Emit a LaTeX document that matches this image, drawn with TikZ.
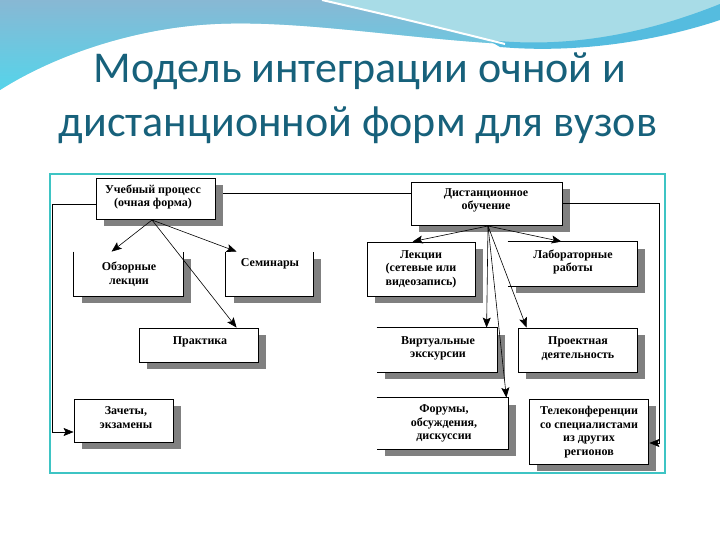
\documentclass[tikz,border=0pt]{standalone}
\usepackage{fontspec}
\setmainfont{Liberation Serif}
\newfontfamily\titlefont{Carlito}
\usetikzlibrary{shadows,fit,arrows.meta}
\definecolor{titlecol}{HTML}{17617B}
\definecolor{blueA}{HTML}{88B8D4}
\definecolor{blueB}{HTML}{55D4EA}
\definecolor{lightcyan}{HTML}{A8DCE7}
\definecolor{cyanband}{HTML}{55BCDF}
\definecolor{framecol}{HTML}{3EC4C4}
\begin{document}
\begin{tikzpicture}[x=1pt,y=-1pt,
  box/.style={draw=black, line width=0.8pt, fill=white, inner sep=0pt,
    drop shadow={shadow xshift=8pt,shadow yshift=-7pt,fill=black!50,opacity=1}},
  openbox/.style={box, draw=none},
  txt/.style={font=\bfseries\fontsize{12}{13.5}\selectfont, align=center, inner sep=0pt},
  conn/.style={line width=0.6pt, -{Stealth[length=10pt,width=8pt,inset=2pt]}},
  plainline/.style={line width=0.6pt},
  titletxt/.style={font=\titlefont\fontsize{44}{50}\selectfont, text=titlecol, anchor=base, inner sep=0pt}
]
\useasboundingbox (0,0) rectangle (720,540);
\fill[white] (0,0) rectangle (720,540);
% top decoration
\fill[lightcyan] (0,0) -- (720,0) -- (720,6) .. controls (660,32) and (580,50) .. (505,44)
  .. controls (400,38) and (300,20) .. (215,24) .. controls (130,28) and (50,58) .. (0,90) -- cycle;
\shade[top color=blueA, bottom color=blueB] (0,0) -- (322,0) .. controls (400,18) .. (505,44)
  .. controls (400,38) and (300,20) .. (215,24) .. controls (130,28) and (50,58) .. (0,90) -- cycle;
\fill[cyanband] (488,40) .. controls (580,50) and (660,28) .. (720,4) -- (720,20)
  .. controls (660,40) and (580,54) .. (500,47) -- cycle;
\draw[white, line width=2pt] (322,0) .. controls (400,18) .. (505,44);
% title
\node[titletxt] (title1) at (360,83) {Модель интеграции очной и};
\node[titletxt] (title2) at (358,137) {дистанционной форм для вузов};
% frame
\draw[framecol, line width=2pt, fill=white] (50,174) rectangle (665,473);
% boxes
\node[box, fit={(96,178) (215,219)}] (b1) {};
\node[openbox, fit={(74,252) (183,296)}] (b2) {};
\node[openbox, fit={(226,252) (313,296)}] (b3) {};
\node[box, fit={(411,182) (562,225)}] (b4) {};
\node[box, fit={(367,242) (475,296)}] (b5) {};
\node[openbox, fit={(508,242) (637,286)}] (b6) {};
\node[box, fit={(139,328) (258,362)}] (b7) {};
\node[box, fit={(74,399) (173,442)}] (b8) {};
\node[openbox, fit={(377,328) (497,372)}] (b9) {};
\node[box, fit={(518,328) (637,372)}] (b10) {};
\node[openbox, fit={(377,398) (508,449)}] (b11) {};
\node[box, fit={(529,399) (648,464)}] (b12) {};
% visible edges of open boxes
\draw[line width=0.8pt] (b2.north west) -- (b2.south west) -- (b2.south east) -- (b2.north east);
\draw[line width=0.8pt] (b3.north west) -- (b3.south west) -- (b3.south east) -- (b3.north east);
\draw[line width=0.8pt] (b6.north west) -- (b6.north east) -- (b6.south east) -- (b6.south west);
\draw[line width=0.8pt] (b9.north west) -- (b9.north east) -- (b9.south east) -- (b9.south west);
\draw[line width=0.8pt] (b11.north west) -- (b11.north east) -- (b11.south east) -- (b11.south west);
% texts
\node[txt] (t1) at (153,197) {Учебный процесс\\(очная форма)};
\node[txt] (t2) at (129,274) {Обзорные\\лекции};
\node[txt] (t3) at (270,264) {Семинары};
\node[txt] (t4) at (486,200.5) {Дистанционное\\обучение};
\node[txt] (t5) at (421,269) {Лекции\\(сетевые или\\видеозапись)};
\node[txt] (t6) at (573,262) {Лабораторные\\работы};
\node[txt] (t7) at (200,342) {Практика};
\node[txt] (t8) at (126,417.5) {Зачеты,\\экзамены};
\node[txt] (t9) at (438,348.5) {Виртуальные\\экскурсии};
\node[txt] (t10) at (578,348.5) {Проектная\\деятельность};
\node[txt] (t11) at (444,423.5) {Форумы,\\обсуждения,\\дискуссии};
\node[txt] (t12) at (589,432) {Телеконференции\\со специалистами\\из других\\регионов};
% connectors
\coordinate (o1) at (152,220);
\coordinate (o2) at (488,226);
\draw[conn] (o1) -- ([xshift=38pt]b2.north west);
\draw[conn] (o1) -- ([xshift=11pt]b3.north west);
\draw[conn] (o1) -- ([xshift=98pt]b7.north west);
\draw[conn] (o2) -- ([xshift=46pt]b5.north west);
\draw[conn] (o2) -- ([xshift=54pt]b6.north west);
\draw[conn] (o2) -- ([xshift=110pt]b9.north west);
\draw[conn] (o2) -- ([xshift=-2pt]b11.north east);
\draw[conn] (o2) -- ([xshift=9pt]b10.north west);
\draw[conn] ([yshift=-5.5pt]b1.west) -- ++(-43,0) |- ([yshift=-11.5pt]b8.west);
\draw[plainline] ([xshift=8pt,yshift=5.5pt]b1.east) -- ([yshift=10.5pt]b4.west);
\draw[conn] (b4.east) -- ++(97,0) |- ([xshift=1pt,yshift=-11.5pt]b12.east);
\end{tikzpicture}
\end{document}
